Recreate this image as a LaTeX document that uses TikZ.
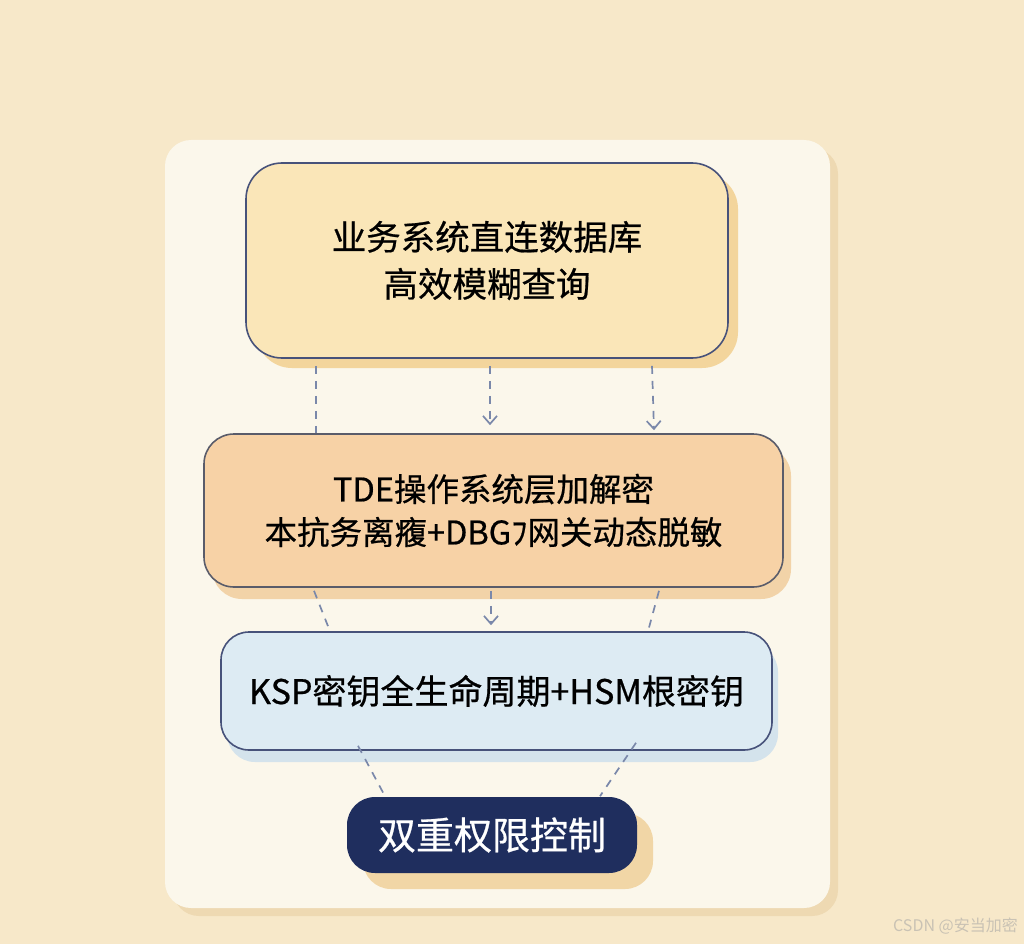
\documentclass[tikz,border=0pt]{standalone}
\usepackage{fontspec}
\newfontfamily\cjk[FakeBold=0.6]{Noto Sans CJK SC}
\newfontfamily\cjkw{Noto Sans CJK SC}
\usetikzlibrary{arrows.meta,calc,shadows}
\definecolor{bg}{HTML}{F7E8C9}
\definecolor{panel}{HTML}{FBF7EB}
\definecolor{panelsh}{HTML}{EED9B2}
\definecolor{yfill}{HTML}{FAE6B8}
\definecolor{ysh}{HTML}{F3D59C}
\definecolor{ofill}{HTML}{F7D2A6}
\definecolor{osh}{HTML}{F2D3A8}
\definecolor{bfill}{HTML}{DDEBF3}
\definecolor{bsh}{HTML}{D4E3EC}
\definecolor{navy}{HTML}{1F2E5E}
\definecolor{nsh}{HTML}{F1D6A6}
\definecolor{edge}{HTML}{47527A}
\definecolor{edgeg}{HTML}{5A5C6A}
\definecolor{conn}{HTML}{7A88AA}
\definecolor{wm}{HTML}{C9C2B4}
\begin{document}
\begin{tikzpicture}[x=1pt,y=-1pt,
  box/.style={rounded corners=#1, line width=1.6pt, align=center, inner sep=0pt, font=\cjk},
  link/.style={conn, line width=1.7pt, dash pattern=on 8pt off 7pt},
  arr/.style={link, -{Straight Barb[length=8pt,width=14pt,line width=1.7pt]}}
]
\useasboundingbox (0,0) rectangle (1024,944);
\fill[bg] (0,0) rectangle (1024,944);
% panel with shadow
\fill[panelsh, rounded corners=26pt] (173,148) rectangle (838,916);
\fill[panel, rounded corners=26pt] (165,140) rectangle (830,908);

% boxes
\node[box=36pt, draw=edge, fill=yfill, minimum width=482pt, minimum height=195pt,
  drop shadow={shadow xshift=10pt, shadow yshift=-10pt, fill=ysh, opacity=1},
  font=\cjk\fontsize{34.5}{47}\selectfont] (b1) at (487,260.5) {业务系统直连数据库\\高效模糊查询};
\node[box=30pt, draw=edgeg, fill=ofill, minimum width=579pt, minimum height=153pt,
  drop shadow={shadow xshift=8pt, shadow yshift=-12pt, fill=osh, opacity=1},
  font=\cjk\fontsize{32.5}{43}\selectfont] (b2) at (493.5,510.5) {TDE操作系统层加解密\\本抗务离癁+DBGﾌ网关动态脱敏};
\node[box=28pt, draw=edge, fill=bfill, minimum width=551pt, minimum height=118pt,
  drop shadow={shadow xshift=6pt, shadow yshift=-12pt, fill=bsh, opacity=1},
  font=\cjk\fontsize{34}{40}\selectfont] (b3) at (496.5,691) {KSP密钥全生命周期+HSM根密钥};
\node[box=28pt, fill=navy, text=white, minimum width=290pt, minimum height=76pt,
  drop shadow={shadow xshift=16pt, shadow yshift=-16pt, fill=nsh, opacity=1},
  font=\cjk\fontsize{38}{44}\selectfont] (b4) at (492,835) {双重权限控制};

% connectors
\draw[link] ($(b1.south)+(-171,7)$) -- ($(b2.north)+(-177.5,0)$);
\draw[arr]  ($(b1.south)+(3,7)$) -- ($(b2.north)+(-3.5,-8)$);
\draw[arr]  ($(b1.south)+(165,7)$) -- ($(b2.north)+(160.5,-3)$);
\draw[link] ($(b2.south)+(-179.5,3)$) -- ($(b3.north)+(-166.5,0)$);
\draw[arr]  ($(b2.south)+(-2.5,3)$) -- ($(b3.north)+(-5.5,-6)$);
\draw[link] ($(b2.south)+(165.5,3)$) -- ($(b3.north)+(151.5,0)$);
\draw[link] ($(b3.south)+(-138.5,-5)$) -- ($(b4.north)+(-107,0)$);
\draw[link] ($(b3.south)+(139.5,-8)$) -- ($(b4.north)+(108,0)$);

% watermark
\node[font=\cjkw\fontsize{16}{18}\selectfont, text=wm, anchor=east, inner sep=0pt] (wmk) at (1018,926) {CSDN @安当加密};
\end{tikzpicture}
\end{document}
